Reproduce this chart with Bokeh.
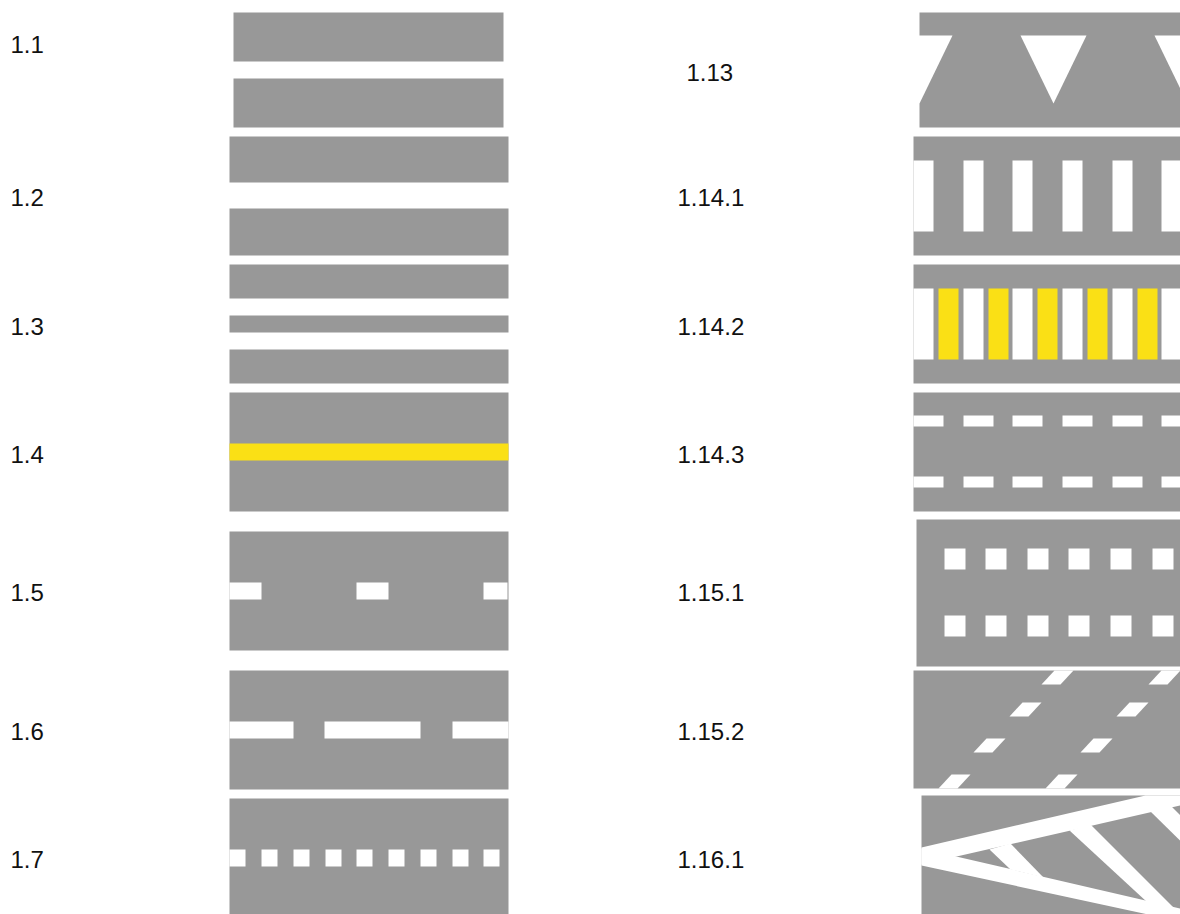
from bokeh.plotting import figure
from bokeh.models import Range1d
from bokeh.core.properties import value
from bokeh.embed import file_html
from bokeh.resources import INLINE

GREY = "#989898"
WHITE = "#FFFFFF"
YELLOW = "#FAE015"

# ---- labels -------------------------------------------------------------
left_labels = ["1.1", "1.2", "1.3", "1.4", "1.5", "1.6", "1.7"]
left_label_y = [44, 197, 326, 454, 592, 731, 859]
right_labels = ["1.13", "1.14.1", "1.14.2", "1.14.3", "1.15.1", "1.15.2", "1.16.1"]
right_label_x = [686, 677, 677, 677, 677, 677, 677]
right_label_y = [72, 197, 326, 454, 592, 731, 859]

# ---- grey road panels (left, right, top, bottom) -----------------------
panel_left = [233, 233, 229, 229, 229, 229, 229, 229, 229, 229, 229,
              919, 913, 913, 913, 916, 913, 921]
panel_right = [503, 503, 508, 508, 508, 508, 508, 508, 508, 508, 508,
               1180, 1180, 1180, 1180, 1180, 1180, 1180]
panel_top = [12, 78, 136, 208, 264, 315, 349, 392, 531, 670, 798,
             12, 136, 264, 392, 519, 670, 795]
panel_bottom = [61, 127, 182, 255, 298, 332, 383, 511, 650, 789, 914,
                127, 255, 383, 511, 666, 788, 914]

# ---- 1.4 yellow solid line
m14_left, m14_right, m14_top, m14_bottom = [229], [508], [443], [460]
# ---- 1.5 dashes
m15_left = [229, 356, 483]
m15_right = [261, 388, 507]
m15_y = (582, 599)
# ---- 1.6 long dashes
m16_left = [229, 324, 452]
m16_right = [293, 420, 508]
m16_y = (721, 738)
# ---- 1.7 dotted
m17_left = [229, 261, 293, 325, 356, 388, 420, 452, 483]
m17_w = 16
m17_y = (849, 866)

# ---- 1.13 triangles (centre x), top / apex y, half width
m113_cx = [919, 1053, 1187]
m113_top, m113_apex, m113_hw = 35, 103, 33
# ---- 1.14.1 zebra
m1141_left = [913, 963, 1012, 1062, 1112, 1161]
m1141_w = 20
m1141_y = (160, 231)
# ---- 1.14.2 zebra white / yellow
m1142_white = [913, 963, 1012, 1062, 1112, 1161]
m1142_yellow = [938, 988, 1037, 1087, 1137]
m1142_w = 20
m1142_y = (288, 359)
# ---- 1.14.3 dashed edges
m1143_left = [913, 963, 1012, 1062, 1112, 1161]
m1143_w = 30
m1143_rows = [(415, 426), (476, 487)]
# ---- 1.15.1 squares
m1151_left = [944, 985, 1027, 1068, 1110, 1152]
m1151_w = 21
m1151_rows = [(548, 569), (615, 636)]
# ---- 1.15.2 slanted parallelograms
m1152_top = [670, 702, 738, 774]
m1152_x = [1054, 1022, 986, 951]
m1152_h, m1152_w, m1152_slant, m1152_dx = 14, 19, 13, 107
# ---- 1.16.1 chevron (polygon outlines)
m1161_xs = [
    [921, 1145, 1180, 1180, 921],
    [921, 1180, 1180, 921],
    [989, 1010, 1043, 1010],
    [1069, 1090, 1180, 1160],
    [1150, 1170, 1240, 1220],
]
m1161_ys = [
    [847, 795, 795, 805, 864],
    [848, 908, 921, 865],
    [849, 843, 877, 869],
    [830, 824, 914, 914],
    [811, 805, 875, 880],
]

# ------------------------------------------------------------------------
p = figure(width=1180, height=914, output_backend="svg", toolbar_location=None,
           x_range=Range1d(0, 1180), y_range=Range1d(914, 0),
           x_axis_type=None, y_axis_type=None, min_border=0)
p.outline_line_color = None
p.grid.visible = False
p.background_fill_color = WHITE


def quads(left, right, top, bottom, color):
    p.quad(left=left, right=right, top=top, bottom=bottom,
           fill_color=color, line_color=None)


quads(panel_left, panel_right, panel_top, panel_bottom, GREY)
quads(m14_left, m14_right, m14_top, m14_bottom, YELLOW)
quads(m15_left, m15_right, [m15_y[0]] * 3, [m15_y[1]] * 3, WHITE)
quads(m16_left, m16_right, [m16_y[0]] * 3, [m16_y[1]] * 3, WHITE)
quads(m17_left, [x + m17_w for x in m17_left], [m17_y[0]] * len(m17_left),
      [m17_y[1]] * len(m17_left), WHITE)

p.patches(xs=[[c - m113_hw, c + m113_hw, c] for c in m113_cx],
          ys=[[m113_top, m113_top, m113_apex] for _ in m113_cx],
          fill_color=WHITE, line_color=None)

quads(m1141_left, [x + m1141_w for x in m1141_left], [m1141_y[0]] * 6,
      [m1141_y[1]] * 6, WHITE)
quads(m1142_white, [x + m1142_w for x in m1142_white],
      [m1142_y[0]] * len(m1142_white), [m1142_y[1]] * len(m1142_white), WHITE)
quads(m1142_yellow, [x + m1142_w for x in m1142_yellow],
      [m1142_y[0]] * len(m1142_yellow), [m1142_y[1]] * len(m1142_yellow), YELLOW)
for (t, b) in m1143_rows:
    quads(m1143_left, [x + m1143_w for x in m1143_left], [t] * 6, [b] * 6, WHITE)
for (t, b) in m1151_rows:
    quads(m1151_left, [x + m1151_w for x in m1151_left], [t] * 6, [b] * 6, WHITE)

pxs, pys = [], []
for t, x0 in zip(m1152_top, m1152_x):
    for k in range(2):
        x = x0 + k * m1152_dx
        pxs.append([x, x + m1152_w, x + m1152_w - m1152_slant, x - m1152_slant])
        pys.append([t, t, t + m1152_h, t + m1152_h])
p.patches(xs=pxs, ys=pys, fill_color=WHITE, line_color=None)

p.patches(xs=m1161_xs, ys=m1161_ys, fill_color=WHITE, line_color=None)

font = value("Liberation Sans")
p.text(x=[10] * len(left_labels), y=left_label_y, text=left_labels,
       text_font=font, text_font_size="24px", text_color="#111111",
       text_baseline="alphabetic", text_align="left")
p.text(x=right_label_x, y=right_label_y, text=right_labels,
       text_font=font, text_font_size="24px", text_color="#111111",
       text_baseline="alphabetic", text_align="left")

open("out.html", "w").write(file_html(p, INLINE))
